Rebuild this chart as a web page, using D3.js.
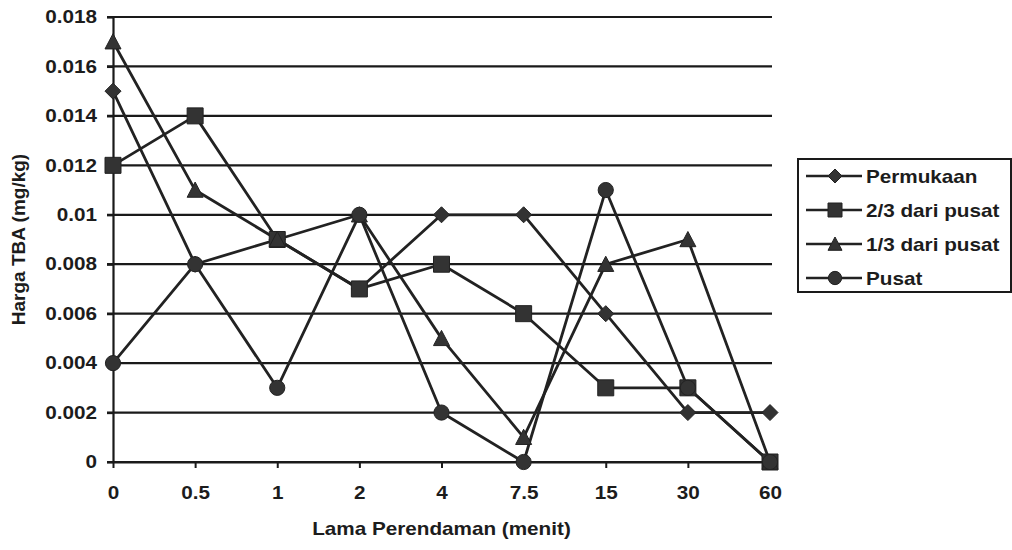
<!DOCTYPE html>
<html>
<head>
<meta charset="utf-8">
<script src="https://cdn.jsdelivr.net/npm/d3@7"></script>
<style>
  html, body { margin: 0; padding: 0; background: #fff; }
  svg { display: block; font-family: "Liberation Sans", Arial, sans-serif; }
  text { font-weight: bold; fill: #1c1c1c; }
</style>
</head>
<body>
<svg id="chart" width="1012" height="550"></svg>
<script>
// Soaking time categories (minutes)
const categories = ["0", "0.5", "1", "2", "4", "7.5", "15", "30", "60"];

// TBA values (mg/kg) per sampling position
const permukaan = [0.015, 0.008, 0.009, 0.007, 0.010, 0.010, 0.006, 0.002, 0.002];
const duaPertiga = [0.012, 0.014, 0.009, 0.007, 0.008, 0.006, 0.003, 0.003, 0.000];
const sepertiga = [0.017, 0.011, 0.009, 0.010, 0.005, 0.001, 0.008, 0.009, 0.000];
const pusat = [0.004, 0.008, 0.003, 0.010, 0.002, 0.000, 0.011, 0.003, 0.000];

const seriesNames = ["Permukaan", "2/3 dari pusat", "1/3 dari pusat", "Pusat"];
const seriesShapes = ["diamond", "square", "triangle", "circle"];

const yTickValues = [0, 0.002, 0.004, 0.006, 0.008, 0.010, 0.012, 0.014, 0.016, 0.018];
const yTickLabels = ["0", "0.002", "0.004", "0.006", "0.008", "0.01", "0.012", "0.014", "0.016", "0.018"];

const xTitle = "Lama Perendaman (menit)";
const yTitle = "Harga TBA (mg/kg)";

const seriesValues = [permukaan, duaPertiga, sepertiga, pusat];

// Layout
const plot = { left: 113, right: 770, top: 17, bottom: 462 };
const ink = "#222";
const stretch = 1.15; // glyphs are slightly wide

const svg = d3.select("#chart");

const x = d3.scalePoint().domain(categories).range([plot.left, plot.right]).padding(0);
const y = d3.scaleLinear().domain([0, 0.018]).range([plot.bottom, plot.top]);

// Horizontal gridlines (extend a little left of the axis as tick marks)
svg.append("g")
  .selectAll("line")
  .data(yTickValues)
  .join("line")
  .attr("x1", plot.left - 6)
  .attr("x2", plot.right + 2)
  .attr("y1", d => y(d))
  .attr("y2", d => y(d))
  .attr("stroke", "#1a1a1a")
  .attr("stroke-width", 2.2);

// Y axis
const yAxis = svg.append("g")
  .attr("transform", `translate(${plot.left},0)`)
  .call(d3.axisLeft(y)
    .tickValues(yTickValues)
    .tickFormat((d, i) => yTickLabels[i])
    .tickSizeInner(6)
    .tickSizeOuter(0)
    .tickPadding(8));
yAxis.select(".domain").attr("stroke", "#1a1a1a").attr("stroke-width", 2.2);
yAxis.selectAll(".tick line").attr("stroke", "#1a1a1a").attr("stroke-width", 2.2);
yAxis.selectAll(".tick text")
  .attr("font-size", 18)
  .attr("font-weight", "bold")
  .attr("fill", "#1c1c1c")
  .attr("font-family", "'Liberation Sans', Arial, sans-serif")
  .attr("transform", `scale(${stretch},1)`);

// X axis
const xAxis = svg.append("g")
  .attr("transform", `translate(0,${plot.bottom})`)
  .call(d3.axisBottom(x)
    .tickSizeInner(6)
    .tickSizeOuter(0)
    .tickPadding(18));
xAxis.select(".domain").attr("stroke", "#1a1a1a").attr("stroke-width", 2.2);
xAxis.selectAll(".tick line").attr("stroke", "#1a1a1a").attr("stroke-width", 2);
xAxis.selectAll(".tick text")
  .attr("font-size", 18)
  .attr("font-weight", "bold")
  .attr("fill", "#1c1c1c")
  .attr("font-family", "'Liberation Sans', Arial, sans-serif")
  .attr("transform", `scale(${stretch},1)`);

// Axis titles
svg.append("text")
  .attr("transform", `translate(${(plot.left + plot.right) / 2},535) scale(${stretch},1)`)
  .attr("text-anchor", "middle")
  .attr("font-size", 18)
  .text(xTitle);

svg.append("text")
  .attr("transform", `translate(25,${(plot.top + plot.bottom) / 2}) rotate(-90)`)
  .attr("text-anchor", "middle")
  .attr("font-size", 19)
  .text(yTitle);

// Marker shapes
function markerPath(shape, r) {
  switch (shape) {
    case "diamond":
      return `M0,${-r}L${r},0L0,${r}L${-r},0Z`;
    case "square":
      return `M${-r},${-r}H${r}V${r}H${-r}Z`;
    case "triangle":
      return `M0,${-r}L${r},${r * 0.9}L${-r},${r * 0.9}Z`;
    default:
      return d3.path().toString() ||
        `M${r},0A${r},${r} 0 1,1 ${-r},0A${r},${r} 0 1,1 ${r},0Z`;
  }
}
function circlePath(r) {
  return `M${r},0A${r},${r} 0 1,1 ${-r},0A${r},${r} 0 1,1 ${r},0Z`;
}
function shapePath(shape, r) {
  return shape === "circle" ? circlePath(r * 0.95) : markerPath(shape, r);
}

const line = d3.line()
  .x((d, i) => x(categories[i]))
  .y(d => y(d));

// Series lines
seriesValues.forEach(vals => {
  svg.append("path")
    .datum(vals)
    .attr("d", line)
    .attr("fill", "none")
    .attr("stroke", ink)
    .attr("stroke-width", 2.8)
    .attr("stroke-linejoin", "round");
});

// Series markers
seriesValues.forEach((vals, s) => {
  svg.append("g")
    .selectAll("path")
    .data(vals)
    .join("path")
    .attr("transform", (d, i) => `translate(${x(categories[i])},${y(d)})`)
    .attr("d", shapePath(seriesShapes[s], 8))
    .attr("fill", "#333")
    .attr("stroke", "#222")
    .attr("stroke-width", 1);
});

// Legend
const legend = svg.append("g");
legend.append("rect")
  .attr("x", 798).attr("y", 159)
  .attr("width", 213).attr("height", 133)
  .attr("fill", "#fff")
  .attr("stroke", "#1a1a1a")
  .attr("stroke-width", 2);

seriesNames.forEach((name, s) => {
  const cy = 176 + s * 34;
  legend.append("line")
    .attr("x1", 806).attr("x2", 862)
    .attr("y1", cy).attr("y2", cy)
    .attr("stroke", ink).attr("stroke-width", 2.6);
  legend.append("path")
    .attr("transform", `translate(835,${cy})`)
    .attr("d", shapePath(seriesShapes[s], 7))
    .attr("fill", "#333")
    .attr("stroke", "#222")
    .attr("stroke-width", 1);
  legend.append("text")
    .attr("transform", `translate(866,${cy + 6.5}) scale(${stretch},1)`)
    .attr("font-size", 18)
    .text(name);
});
</script>
</body>
</html>
